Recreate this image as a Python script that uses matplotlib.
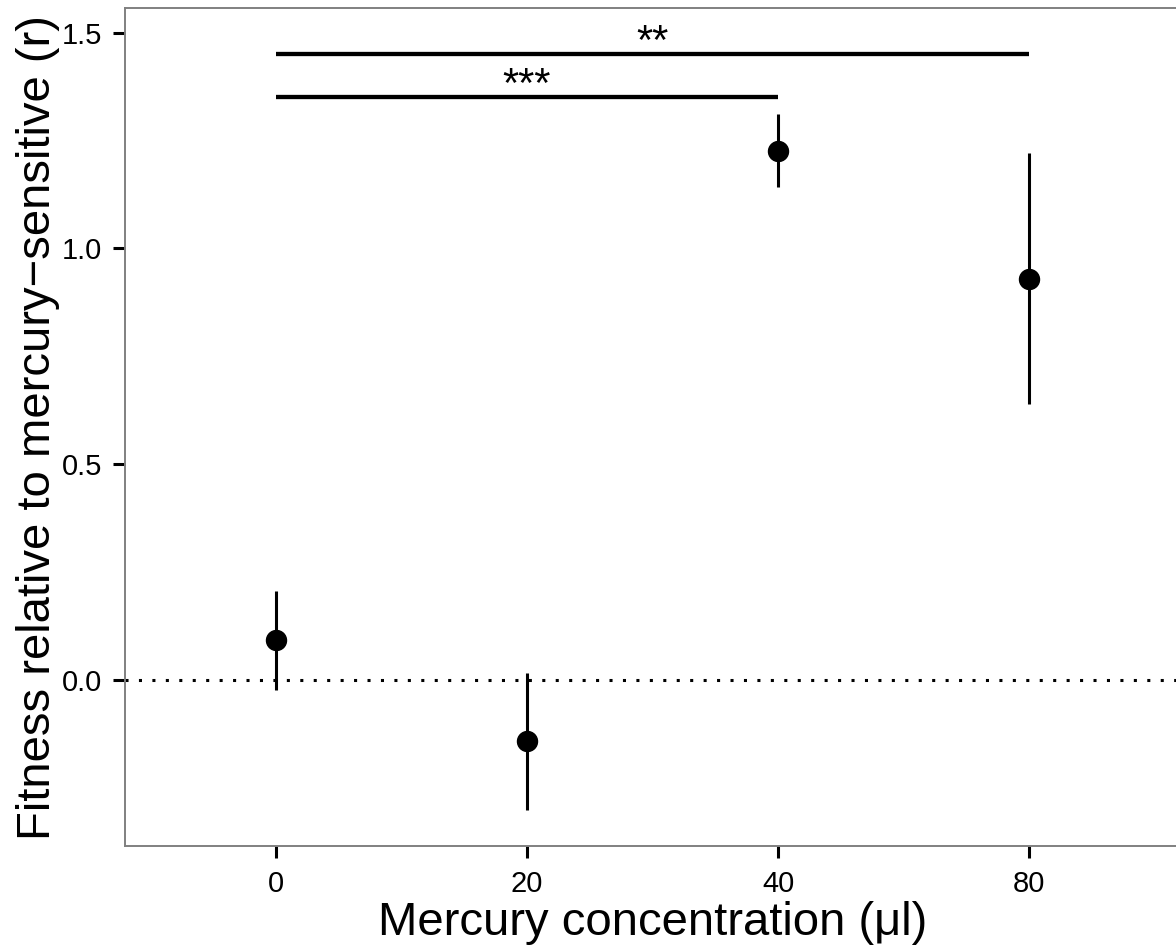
import matplotlib
matplotlib.use("Agg")
import matplotlib.pyplot as plt

plt.rcParams['font.family'] = ['Liberation Sans', 'DejaVu Sans']

# data
conc_labels = ["0", "20", "40", "80"]
fitness = [0.094, -0.140, 1.226, 0.930]
ci_low = [-0.022, -0.300, 1.142, 0.640]
ci_high = [0.206, 0.017, 1.311, 1.222]

# significance brackets: (from index, to index, height, label)
sig_from = [0, 0]
sig_to = [3, 2]
sig_y = [1.45, 1.35]
sig_text = ["**", "***"]

fig = plt.figure(figsize=(11.76, 9.48), dpi=100)
ax = fig.add_axes([0.1063, 0.1071, 0.8971, 0.8841])

xpos = list(range(1, len(conc_labels) + 1))

ax.axhline(0, color='black', lw=2.2, linestyle=(0, (1, 3.4)), dash_capstyle='butt', zorder=1)

ax.vlines(xpos, ci_low, ci_high, color='black', lw=2.2, zorder=2)
ax.plot(xpos, fitness, 'o', color='black', markersize=14.4, zorder=3)

for a, b, y, t in zip(sig_from, sig_to, sig_y, sig_text):
    ax.plot([xpos[a], xpos[b]], [y, y], color='black', lw=3.1, solid_capstyle='butt')
    ax.annotate(t, ((xpos[a] + xpos[b]) / 2, y), xytext=(0, 0.3), textcoords='offset points',
                ha='center', va='baseline', fontsize=30)

ax.set_xlim(0.4, 4.6)
ax.set_ylim(-0.385, 1.556)
ax.set_xticks(xpos)
ax.set_xticklabels(conc_labels)
ax.set_yticks([0.0, 0.5, 1.0, 1.5])
ax.set_yticklabels(["0.0", "0.5", "1.0", "1.5"])

ax.tick_params(axis='both', length=8.6, width=2.2, color='black', labelsize=21, labelcolor='black')
ax.tick_params(axis='x', pad=8.5)
ax.tick_params(axis='y', pad=8)

for s in ax.spines.values():
    s.set_color('#808080')
    s.set_linewidth(1.4)

ax.set_xlabel("Mercury concentration (μl)", fontsize=34)
ax.set_ylabel("Fitness relative to mercury\u2212sensitive (r)", fontsize=34)
ax.xaxis.set_label_coords(0.5, -0.065)
ax.yaxis.set_label_coords(-0.062, 0.5)

fig.savefig("out.png", dpi=100)
